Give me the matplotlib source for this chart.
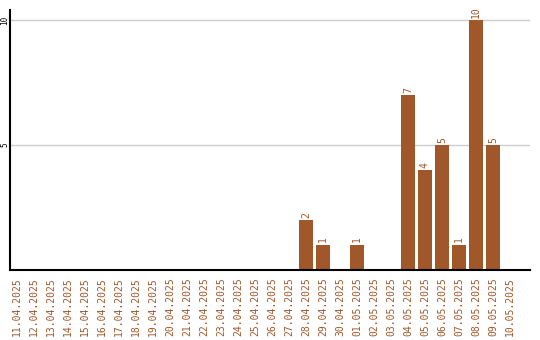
import matplotlib
matplotlib.use("Agg")
import matplotlib.pyplot as plt

dates = ["11.04.2025", "12.04.2025", "13.04.2025", "14.04.2025", "15.04.2025",
         "16.04.2025", "17.04.2025", "18.04.2025", "19.04.2025", "20.04.2025",
         "21.04.2025", "22.04.2025", "23.04.2025", "24.04.2025", "25.04.2025",
         "26.04.2025", "27.04.2025", "28.04.2025", "29.04.2025", "30.04.2025",
         "01.05.2025", "02.05.2025", "03.05.2025", "04.05.2025", "05.05.2025",
         "06.05.2025", "07.05.2025", "08.05.2025", "09.05.2025", "10.05.2025"]
counts = [0, 0, 0, 0, 0, 0, 0, 0, 0, 0,
          0, 0, 0, 0, 0, 0, 0, 2, 1, 0,
          1, 0, 0, 7, 4, 5, 1, 10, 5, 0]
y_ticks = [5, 10]

bar_color = "#A0572A"
text_color = "#A0572A"
mono = "DejaVu Sans Mono"

fig = plt.figure(figsize=(5.4, 3.4), dpi=100)
ax = fig.add_axes([10 / 540, 70 / 340, 520 / 540, 260 / 340])

x = list(range(len(dates)))
ax.bar(x, counts, width=0.82, color=bar_color, zorder=2)

for xi, v in zip(x, counts):
    if v > 0:
        ax.text(xi, v + 0.1, str(v), rotation=90, ha="center", va="bottom",
                fontsize=7, family=mono, color=text_color)

ax.set_xlim(-0.41, 30.18)
ax.set_ylim(0, 10.4)

ax.set_xticks(x)
ax.set_xticklabels(dates, rotation=90, fontsize=7, family=mono, color=text_color)
ax.set_yticks(y_ticks)
ax.set_yticklabels([str(t) for t in y_ticks], rotation=90, fontsize=5.5,
                   family=mono, va="center")
ax.tick_params(axis="both", length=0)
ax.tick_params(axis="x", pad=5)
ax.tick_params(axis="y", pad=0.5)

ax.yaxis.grid(True, color="#cccccc", linewidth=1, zorder=0)
ax.set_axisbelow(True)

for side in ("top", "right"):
    ax.spines[side].set_visible(False)
for side in ("left", "bottom"):
    ax.spines[side].set_color("black")
    ax.spines[side].set_linewidth(1.5)

fig.savefig("out.png", dpi=100)
